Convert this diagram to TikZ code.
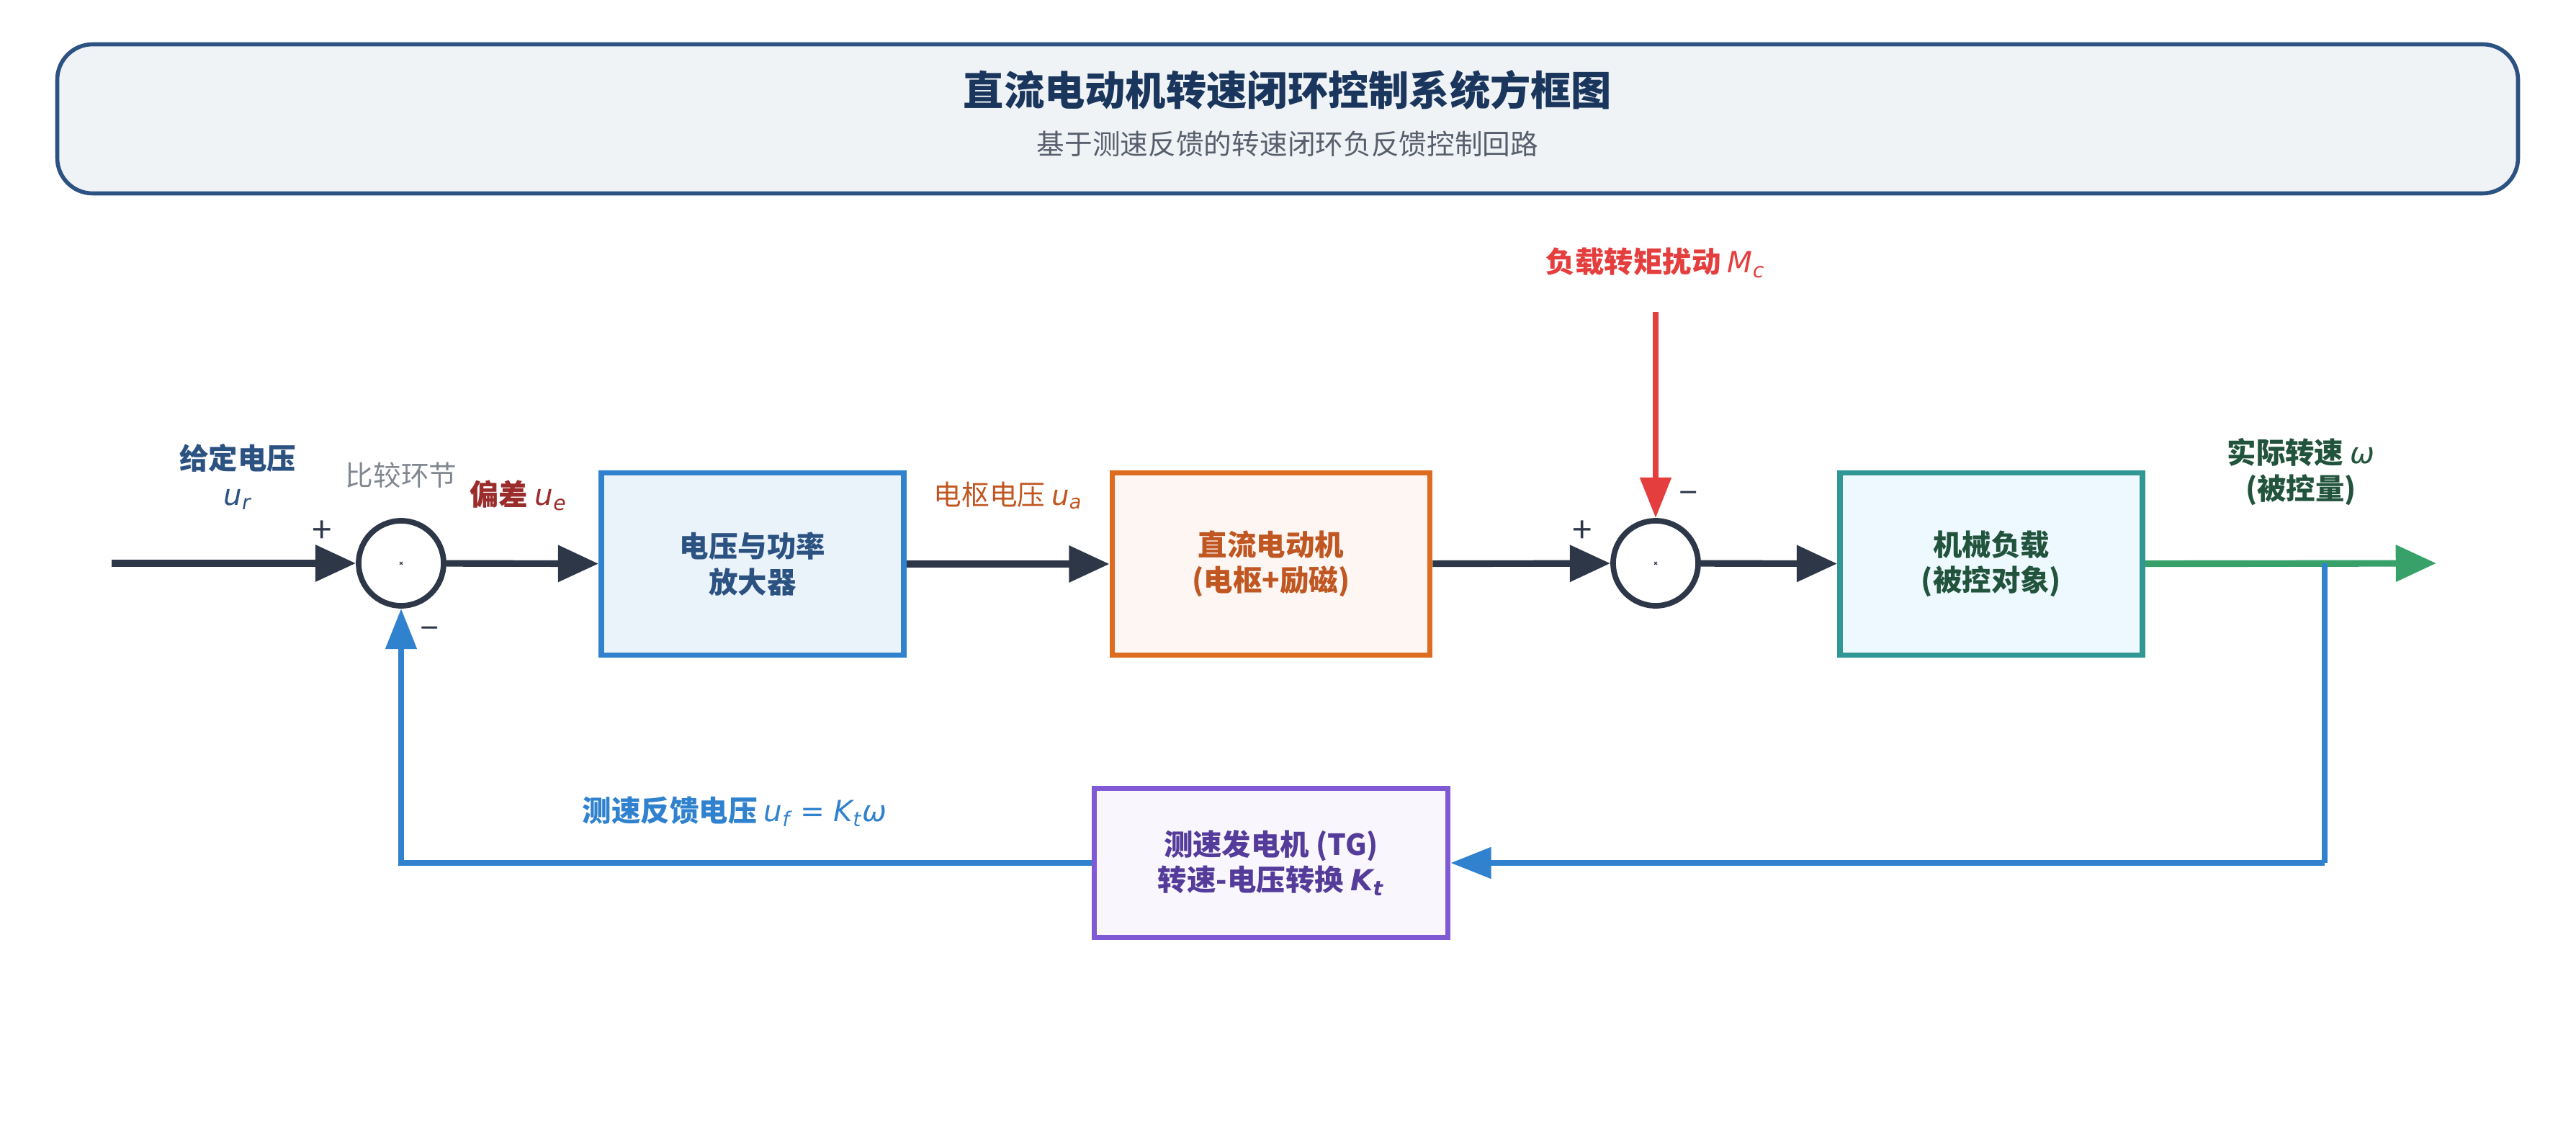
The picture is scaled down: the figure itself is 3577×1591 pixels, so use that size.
\documentclass[tikz,border=0pt]{standalone}
\usepackage{fontspec}
\setmainfont{Noto Sans CJK SC}
\newfontfamily\mf{DejaVu Sans}
\newcommand{\vr}[2]{{\mf\itshape #1}\textsubscript{\mf\itshape #2}}
\usetikzlibrary{arrows.meta}
\definecolor{dark}{HTML}{2D3748}
\definecolor{bl}{HTML}{3182CE}
\definecolor{tb}{HTML}{2C5282}
\definecolor{tbt}{HTML}{1A365D}
\definecolor{org}{HTML}{DD6B20}
\definecolor{orgt}{HTML}{C05621}
\definecolor{tl}{HTML}{319795}
\definecolor{tlt}{HTML}{22543D}
\definecolor{gr}{HTML}{38A169}
\definecolor{vio}{HTML}{805AD5}
\definecolor{viot}{HTML}{553C9A}
\definecolor{rd}{HTML}{E53E3E}
\definecolor{dr}{HTML}{9B2C2C}
\begin{document}
\begin{tikzpicture}[x=0.01cm,y=-0.01cm,
 blk/.style={draw=#1,line width=2.2pt,inner sep=0},
 sumj/.style={circle,draw=dark,line width=2.2pt,minimum size=118*0.01cm,inner sep=0,path picture={\draw[dark,line width=1.6pt] ([shift={(-0.42,0.42)}]path picture bounding box.center)--([shift={(0.42,-0.42)}]path picture bounding box.center) ([shift={(0.42,0.42)}]path picture bounding box.center)--([shift={(-0.42,-0.42)}]path picture bounding box.center);}},
 sig/.style={line width=2.6pt,dark,-{Triangle[length=16pt,width=14pt]}},
 lab/.style={font=\fontsize{11.5}{14}\selectfont\bfseries,align=center}]
\useasboundingbox (0,0) rectangle (3577,1591);
\node[draw=tb,line width=1.6pt,fill=tb!7,rounded corners=14pt,minimum width=3417*0.01cm,minimum height=207*0.01cm] (title) at (1788,165) {};
\node[font=\fontsize{16}{18}\selectfont\bfseries,text=tbt] (t1) at (1788,125) {直流电动机转速闭环控制系统方框图};
\node[font=\fontsize{11}{13}\selectfont,text=dark!80] (t2) at (1788,200) {基于测速反馈的转速闭环负反馈控制回路};
\coordinate (in) at (155,782);
\node[sumj] (s1) at (557,782) {};
\node[blk=bl,fill=bl!10,minimum width=420*0.01cm,minimum height=253*0.01cm,lab,text=tb] (b1) at (1045,783) {电压与功率\\放大器};
\node[blk=org,fill=org!6,minimum width=441*0.01cm,minimum height=253*0.01cm,lab,text=orgt] (b2) at (1765,783) {直流电动机\\(电枢+励磁)};
\node[sumj] (s2) at (2299,782) {};
\node[blk=tl,fill=cyan!7,minimum width=420*0.01cm,minimum height=253*0.01cm,lab,text=tlt] (b3) at (2765,783) {机械负载\\(被控对象)};
\node[blk=vio,fill=vio!5,minimum width=491*0.01cm,minimum height=207*0.01cm,lab,text=viot] (tg) at (1765,1198) {测速发电机 (TG)\\转速-电压转换 \vr{K}{t}};
\coordinate (out) at (3383,782);
\coordinate (br) at (3228,782);
\coordinate (brd) at (3228,1198);
\coordinate (fl) at (557,1198);
\coordinate (dist) at (2299,433);
\draw[sig] (in)--(s1);
\draw[sig] (s1)--(b1);
\draw[sig] (b1)--(b2);
\draw[sig] (b2)--(s2);
\draw[sig] (s2)--(b3);
\draw[line width=2.6pt,gr,-{Triangle[length=16pt,width=14pt]}] (b3)--(out);
\draw[line width=2.2pt,bl] (br)--(brd);
\draw[line width=2.2pt,bl,-{Triangle[length=16pt,width=12pt]}] (brd)--(tg);
\draw[line width=2.2pt,bl,-{Triangle[length=16pt,width=12pt]}] (tg.west)--(fl)--(s1);
\draw[line width=2.2pt,rd,-{Triangle[length=16pt,width=12pt]}] (dist)--(s2);
\node[lab,text=tb] (l1) at (330,662) {给定电压\\{\normalfont\vr{u}{r}}};
\node[font=\fontsize{11}{13}\selectfont,text=dark!60] (l2) at (557,660) {比较环节};
\node[lab,text=dr] (l3) at (720,688) {偏差 {\normalfont\vr{u}{e}}};
\node[font=\fontsize{11}{13}\selectfont,text=orgt] (l4) at (1400,688) {电枢电压 \vr{u}{a}};
\node[lab,text=rd] (l5) at (2299,365) {负载转矩扰动 {\normalfont\vr{M}{c}}};
\node[lab,text=tlt] (l6) at (3195,655) {实际转速 {\normalfont\mf\itshape ω}\\(被控量)};
\node[lab,text=bl] (l7) at (1020,1127) {测速反馈电压 {\normalfont\vr{u}{f}\mf\ = \vr{K}{t}{\itshape ω}}};
\node[font=\fontsize{14}{14}\selectfont,text=dark] (p1) at (447,738) {+};
\node[font=\fontsize{14}{14}\selectfont,text=dark] (m1) at (597,878) {–};
\node[font=\fontsize{14}{14}\selectfont,text=dark] (p2) at (2197,738) {+};
\node[font=\fontsize{14}{14}\selectfont,text=dark] (m2) at (2345,690) {–};
\end{tikzpicture}
\end{document}
